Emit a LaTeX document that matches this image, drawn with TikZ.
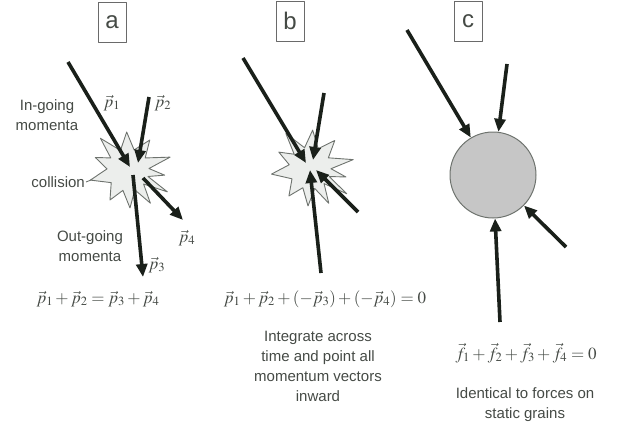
\documentclass[tikz,border=0pt]{standalone}
\usepackage{mathptmx}
\usepackage[no-math]{fontspec}
\setmainfont{Liberation Serif}
\setsansfont{Liberation Sans}
\usetikzlibrary{arrows.meta}
\definecolor{ink}{HTML}{1A201A}
\definecolor{textc}{HTML}{454A45}
\definecolor{burstfill}{HTML}{ECEEEC}
\definecolor{burstline}{HTML}{6E736E}
\definecolor{grainfill}{HTML}{C6C6C6}
\definecolor{boxline}{HTML}{6A6A6A}

\begin{document}
\begin{tikzpicture}[x=1pt,y=-1pt,line join=round,
  mom/.style={draw=ink,line width=3.6pt,-{Triangle[length=13pt,width=11pt]}},
  burst/.style={fill=burstfill,draw=burstline,line width=0.9pt},
  lbl/.style={font=\sffamily\fontsize{15}{20}\selectfont,text=textc,align=center,inner sep=1pt},
  eqn/.style={font=\fontsize{17}{20}\selectfont,text=textc,inner sep=0pt},
  panel/.style={draw=boxline,line width=0.8pt,minimum width=28pt,minimum height=40pt,
    inner sep=0pt,font=\sffamily\fontsize{24}{24}\selectfont,text=textc}]
  % canvas 623 x 428 (pixels as points, y downwards)
  \useasboundingbox (0,0) rectangle (623,428);

  % ---- panel labels ----
  \node[panel] (boxa) at (112,22) {a};
  \node[panel] (boxb) at (290,21) {b};
  \node[panel] (boxc) at (468,21) {c};

  % ---- collision bursts (a and b) ----
  \foreach \cx/\cy/\rot in {128/170/0, 310/168/-6}{
    \draw[burst,shift={(\cx,\cy)},rotate=\rot] (-131:42)
      \foreach \i/\o/\r in {-111/-92/38,-73/-54/37,-35/-17/44,-4/8/37,18/29/45,
                            42/56/40,71/87/38,104/121/35,143/165/39,183/201/35}{
        -- (\i:21) -- (\o:\r)} -- (215:21) -- cycle;
  }

  % ---- panel a: in-going and out-going momenta ----
  \coordinate (sa1) at (68,62);   \coordinate (ea1) at (130,167);
  \coordinate (sa2) at (149,97);  \coordinate (ea2) at (138,163);
  \coordinate (sa3) at (133,175); \coordinate (ea3) at (143,277);
  \coordinate (sa4) at (143,178); \coordinate (ea4) at (183,220);
  \foreach \k in {1,...,4}
    \draw[mom] (sa\k) -- (ea\k);

  \node[eqn] (lp1) at (112,103) {$\vec p_1$};
  \node[eqn] (lp2) at (163,103) {$\vec p_2$};
  \node[eqn] (lp3) at (157,265) {$\vec p_3$};
  \node[eqn] (lp4) at (187,238) {$\vec p_4$};
  \node[lbl] (ingoing) at (47,115) {In-going\\momenta};
  \node[lbl] (outgoing) at (90,246) {Out-going\\momenta};
  \node[lbl,anchor=east] (collision) at (86,182) {collision};
  \coordinate (burstleft) at (91,180);
  \draw[burstline,line width=0.9pt] (collision.east) -- (burstleft);

  % ---- panel b: all momenta pointing inward ----
  \coordinate (sb1) at (243,58);  \coordinate (eb1) at (306,163);
  \coordinate (sb2) at (324,93);  \coordinate (eb2) at (313,160);
  \coordinate (sb3) at (321,273); \coordinate (eb3) at (310,170);
  \coordinate (sb4) at (358,212); \coordinate (eb4) at (316,170);
  \foreach \k in {1,...,4}
    \draw[mom] (sb\k) -- (eb\k);

  % ---- panel c: forces on a static grain ----
  \node[circle,fill=grainfill,draw=burstline,line width=1pt,minimum size=86pt,inner sep=0pt]
    (grain) at (493,175) {};
  \coordinate (sc1) at (407,30);
  \coordinate (sc2) at (507,64);
  \coordinate (sc3) at (566,247);
  \coordinate (sc4) at (500,322);
  \foreach \k in {1,...,4}
    \draw[mom] (sc\k) -- (grain);

  % ---- equations and notes ----
  \node[eqn] (eqa) at (98,299) {$\vec p_1+\vec p_2=\vec p_3+\vec p_4$};
  \node[eqn] (eqb) at (325,299) {$\vec p_1+\vec p_2+\left(-\vec p_3\right)+\left(-\vec p_4\right)=0$};
  \node[lbl] (noteb) at (318,366) {Integrate across\\time and point all\\momentum vectors\\inward};
  \node[eqn] (eqc) at (526,353) {$\vec f_1+\vec f_2+\vec f_3+\vec f_4=0$};
  \node[lbl] (notec) at (525,405) {Identical to forces on\\static grains};
\end{tikzpicture}
\end{document}
